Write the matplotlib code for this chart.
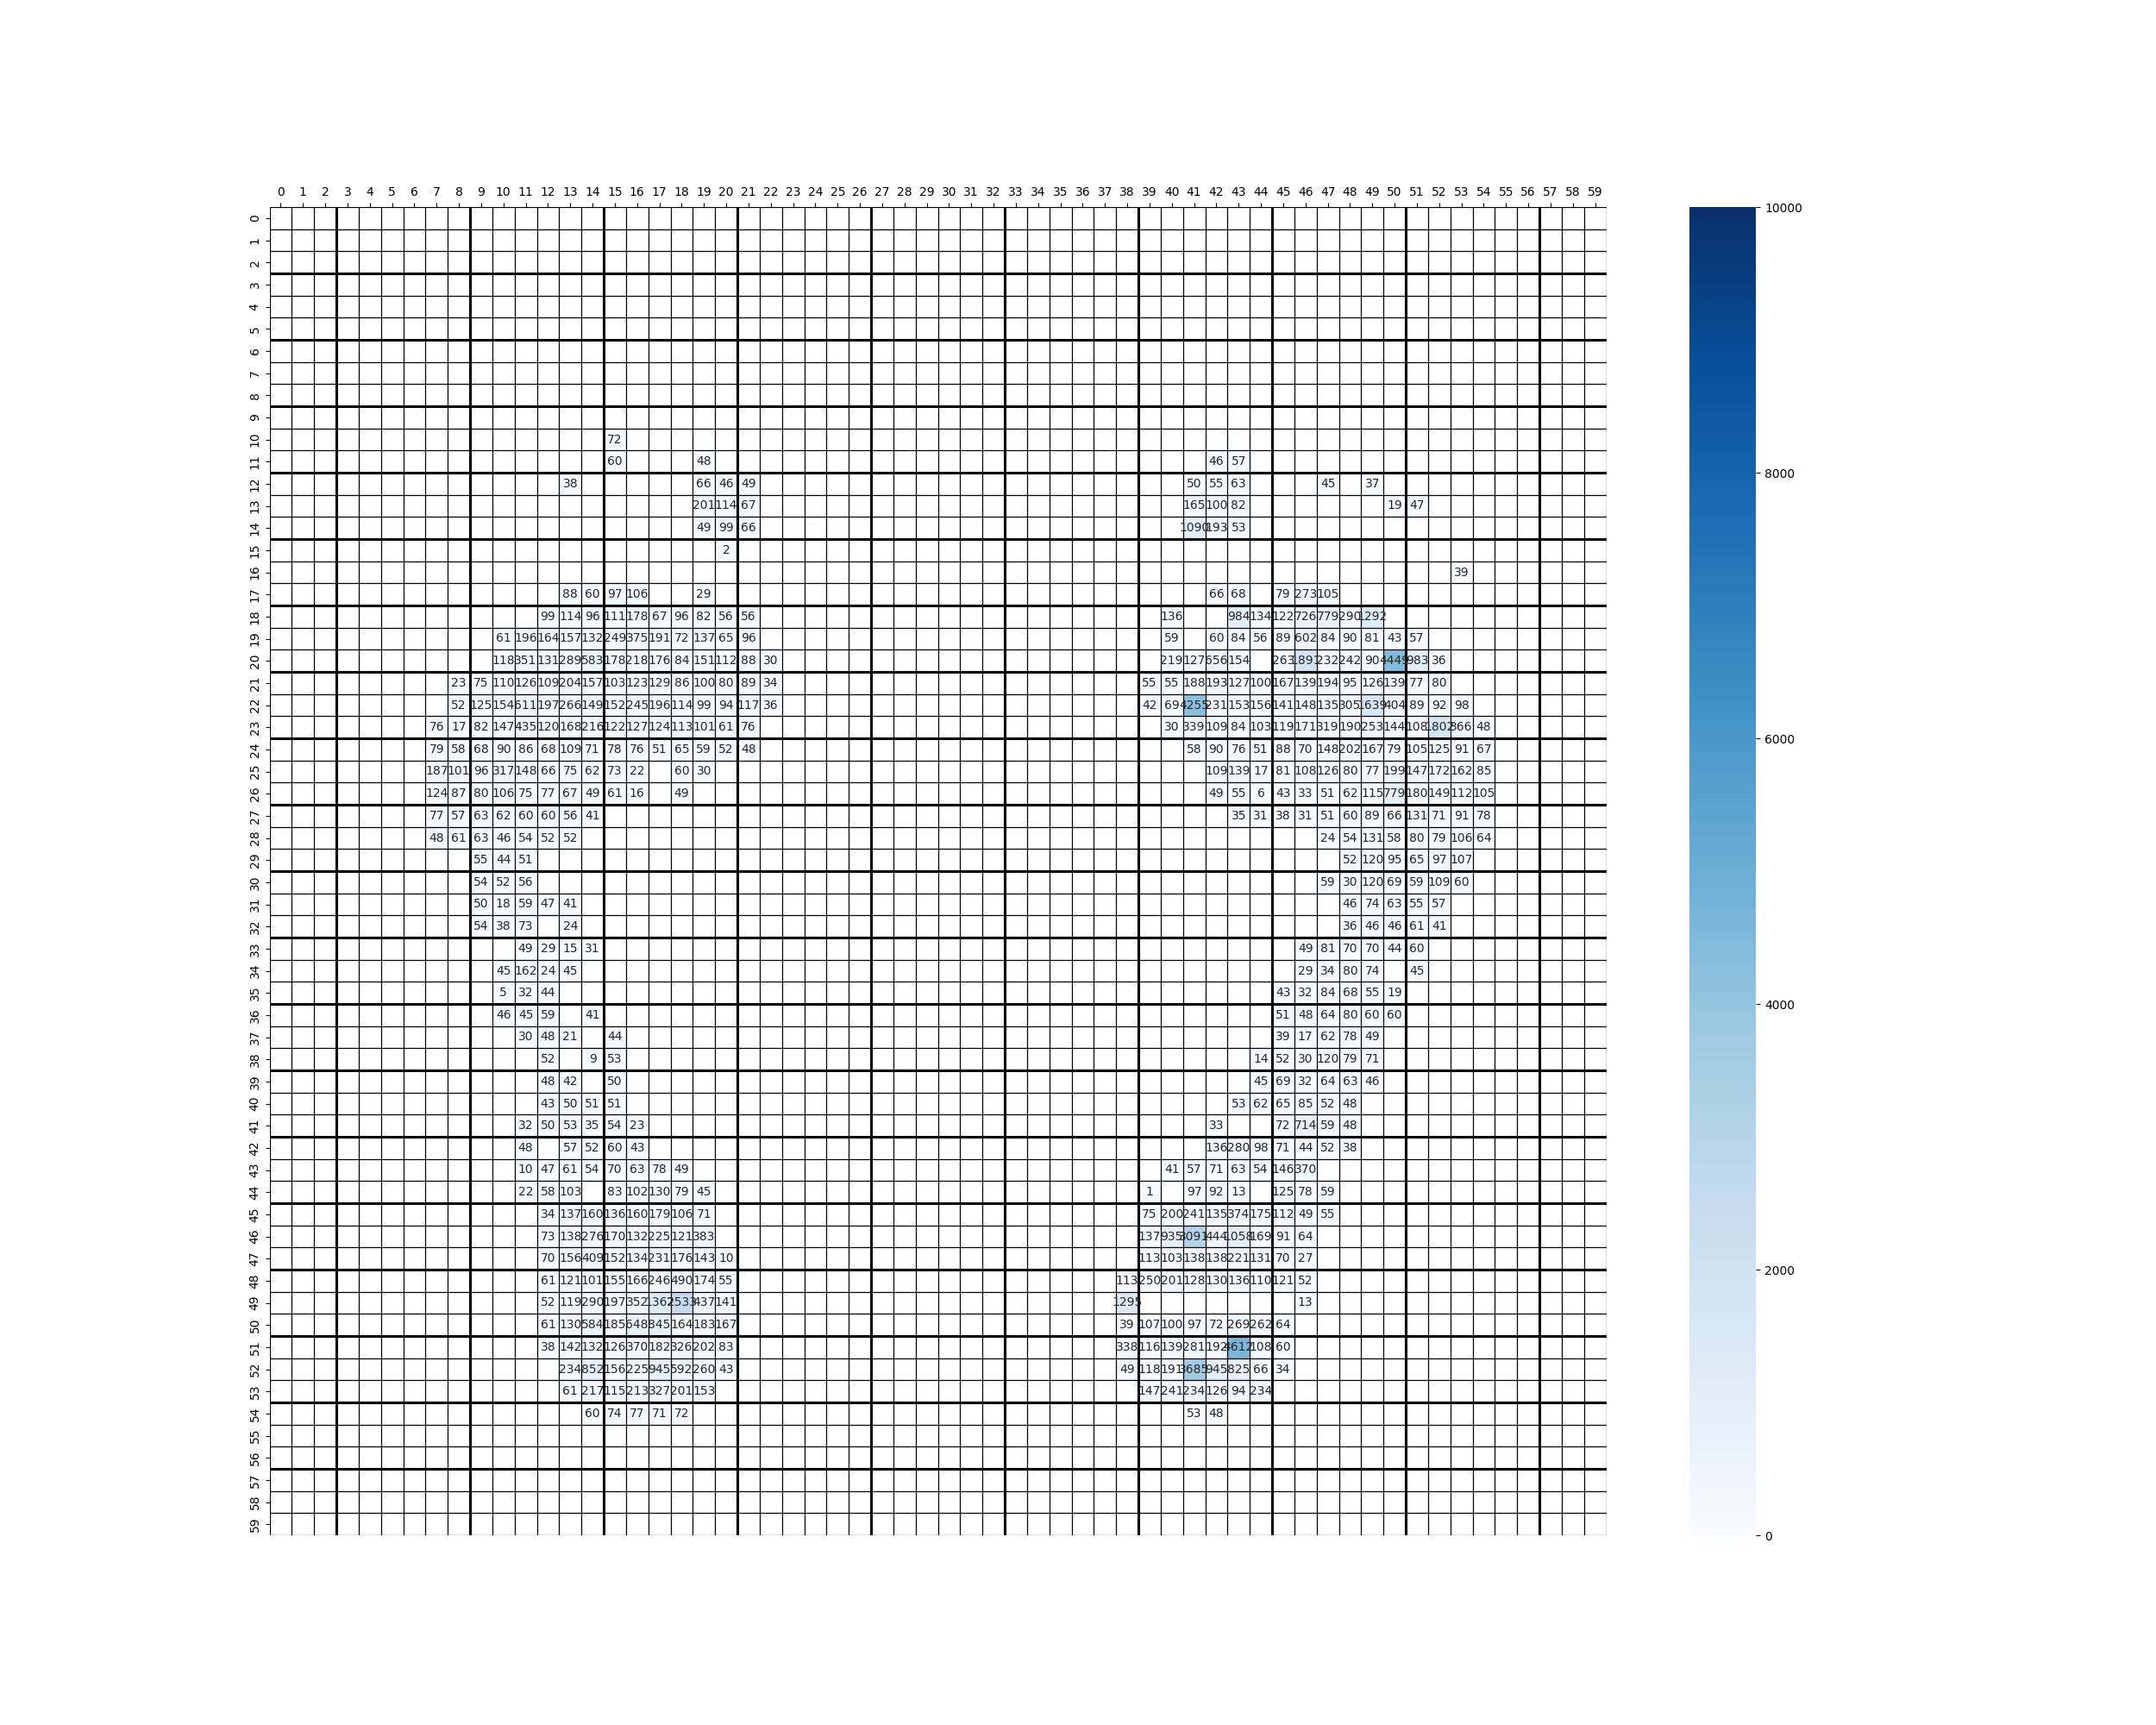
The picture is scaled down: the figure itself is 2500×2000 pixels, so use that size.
import numpy as np
import matplotlib
matplotlib.use("Agg")
import matplotlib.pyplot as plt
import seaborn as sns

# ---------------- data ----------------
row_labels = list(range(60))
col_labels = list(range(60))

# (row, first column, values left-to-right; 0 = empty cell)
left_cluster = [
    (10, 15, [72]),
    (11, 15, [60, 0, 0, 0, 48]),
    (12, 13, [38, 0, 0, 0, 0, 0, 66, 46, 49]),
    (13, 19, [201, 114, 67]),
    (14, 19, [49, 99, 66]),
    (15, 20, [2]),
    (17, 13, [88, 60, 97, 106, 0, 0, 29]),
    (18, 12, [99, 114, 96, 111, 178, 67, 96, 82, 56, 56]),
    (19, 10, [61, 196, 164, 157, 132, 249, 375, 191, 72, 137, 65, 96]),
    (20, 10, [118, 351, 131, 289, 583, 178, 218, 176, 84, 151, 112, 88, 30]),
    (21, 8, [23, 75, 110, 126, 109, 204, 157, 103, 123, 129, 86, 100, 80, 89, 34]),
    (22, 8, [52, 125, 154, 611, 197, 266, 149, 152, 245, 196, 114, 99, 94, 117, 36]),
    (23, 7, [76, 17, 82, 147, 435, 120, 168, 216, 122, 127, 124, 113, 101, 61, 76]),
    (24, 7, [79, 58, 68, 90, 86, 68, 109, 71, 78, 76, 51, 65, 59, 52, 48]),
    (25, 7, [187, 101, 96, 317, 148, 66, 75, 62, 73, 22, 0, 60, 30]),
    (26, 7, [124, 87, 80, 106, 75, 77, 67, 49, 61, 16, 0, 49]),
    (27, 7, [77, 57, 63, 62, 60, 60, 56, 41]),
    (28, 7, [48, 61, 63, 46, 54, 52, 52]),
    (29, 9, [55, 44, 51]),
    (30, 9, [54, 52, 56]),
    (31, 9, [50, 18, 59, 47, 41]),
    (32, 9, [54, 38, 73, 0, 24]),
    (33, 11, [49, 29, 15, 31]),
    (34, 10, [45, 162, 24, 45]),
    (35, 10, [5, 32, 44]),
    (36, 10, [46, 45, 59, 0, 41]),
    (37, 11, [30, 48, 21, 0, 44]),
    (38, 12, [52, 0, 9, 53]),
    (39, 12, [48, 42, 0, 50]),
    (40, 12, [43, 50, 51, 51]),
    (41, 11, [32, 50, 53, 35, 54, 23]),
    (42, 11, [48, 0, 57, 52, 60, 43]),
    (43, 11, [10, 47, 61, 54, 70, 63, 78, 49]),
    (44, 11, [22, 58, 103, 0, 83, 102, 130, 79, 45]),
    (45, 12, [34, 137, 160, 136, 160, 179, 106, 71]),
    (46, 12, [73, 138, 276, 170, 132, 225, 121, 383]),
    (47, 12, [70, 156, 409, 152, 134, 231, 176, 143, 10]),
    (48, 12, [61, 121, 101, 155, 166, 246, 490, 174, 55]),
    (49, 12, [52, 119, 290, 197, 352, 1362, 2533, 437, 141]),
    (50, 12, [61, 130, 584, 185, 648, 845, 164, 183, 167]),
    (51, 12, [38, 142, 132, 126, 370, 182, 326, 202, 83]),
    (52, 13, [234, 852, 156, 225, 945, 592, 260, 43]),
    (53, 13, [61, 217, 115, 213, 327, 201, 153]),
    (54, 14, [60, 74, 77, 71, 72]),
]

right_cluster = [
    (11, 42, [46, 57]),
    (12, 41, [50, 55, 63, 0, 0, 0, 45, 0, 37]),
    (13, 41, [165, 100, 82, 0, 0, 0, 0, 0, 0, 19, 47]),
    (14, 41, [1090, 193, 53]),
    (16, 53, [39]),
    (17, 42, [66, 68, 0, 79, 273, 105]),
    (18, 40, [136, 0, 0, 984, 134, 122, 726, 779, 290, 1292]),
    (19, 40, [59, 0, 60, 84, 56, 89, 602, 84, 90, 81, 43, 57]),
    (20, 40, [219, 127, 656, 154, 0, 263, 1891, 232, 242, 90, 4449, 983, 36]),
    (21, 39, [55, 55, 188, 193, 127, 100, 167, 139, 194, 95, 126, 139, 77, 80]),
    (22, 39, [42, 69, 4255, 231, 153, 156, 141, 148, 135, 305, 1639, 404, 89, 92, 98]),
    (23, 40, [30, 339, 109, 84, 103, 119, 171, 319, 190, 253, 144, 108, 1802, 366, 48]),
    (24, 41, [58, 90, 76, 51, 88, 70, 148, 202, 167, 79, 105, 125, 91, 67]),
    (25, 42, [109, 139, 17, 81, 108, 126, 80, 77, 199, 147, 172, 162, 85]),
    (26, 42, [49, 55, 6, 43, 33, 51, 62, 115, 779, 180, 149, 112, 105]),
    (27, 43, [35, 31, 38, 31, 51, 60, 89, 66, 131, 71, 91, 78]),
    (28, 47, [24, 54, 131, 58, 80, 79, 106, 64]),
    (29, 48, [52, 120, 95, 65, 97, 107]),
    (30, 47, [59, 30, 120, 69, 59, 109, 60]),
    (31, 48, [46, 74, 63, 55, 57]),
    (32, 48, [36, 46, 46, 61, 41]),
    (33, 46, [49, 81, 70, 70, 44, 60]),
    (34, 46, [29, 34, 80, 74, 0, 45]),
    (35, 45, [43, 32, 84, 68, 55, 19]),
    (36, 45, [51, 48, 64, 80, 60, 60]),
    (37, 45, [39, 17, 62, 78, 49]),
    (38, 44, [14, 52, 30, 120, 79, 71]),
    (39, 44, [45, 69, 32, 64, 63, 46]),
    (40, 43, [53, 62, 65, 85, 52, 48]),
    (41, 42, [33, 0, 0, 72, 714, 59, 48]),
    (42, 42, [136, 280, 98, 71, 44, 52, 38]),
    (43, 40, [41, 57, 71, 63, 54, 146, 370]),
    (44, 39, [1, 0, 97, 92, 13, 0, 125, 78, 59]),
    (45, 39, [75, 200, 241, 135, 374, 175, 112, 49, 55]),
    (46, 39, [137, 935, 3091, 444, 1058, 169, 91, 64]),
    (47, 39, [113, 103, 138, 138, 221, 131, 70, 27]),
    (48, 38, [113, 250, 201, 128, 130, 136, 110, 121, 52]),
    (49, 38, [1295, 0, 0, 0, 0, 0, 0, 0, 13]),
    (50, 38, [39, 107, 100, 97, 72, 269, 262, 64]),
    (51, 38, [338, 116, 139, 281, 192, 4612, 108, 60]),
    (52, 38, [49, 118, 191, 3685, 945, 825, 66, 34]),
    (53, 39, [147, 241, 234, 126, 94, 234]),
    (54, 41, [53, 48]),
]

colorbar_max = 10000

# ---------------- build matrix ----------------
grid = np.zeros((len(row_labels), len(col_labels)))
for cluster in (left_cluster, right_cluster):
    for r, c0, vals in cluster:
        for k, v in enumerate(vals):
            grid[r, c0 + k] = v

annot = np.where(grid > 0, grid.astype(int).astype(str), "")

# ---------------- plot ----------------
fig, ax = plt.subplots(figsize=(25, 20), dpi=100)
sns.heatmap(grid, mask=(grid == 0), cmap="Blues", vmin=0, vmax=colorbar_max,
            annot=annot, fmt="", annot_kws={"size": 10},
            xticklabels=col_labels, yticklabels=row_labels, ax=ax)

n = len(row_labels)
for i in range(n + 1):
    ax.axhline(i, color="black", lw=2.2 if (i % 3 == 0 and 0 < i < n) else 0.9)
for j in range(n + 1):
    ax.axvline(j, color="black", lw=2.2 if (j % 6 == 3) else 0.9)

ax.xaxis.tick_top()
ax.tick_params(axis="both", labelsize=10)

fig.savefig("out.png", dpi=100)
